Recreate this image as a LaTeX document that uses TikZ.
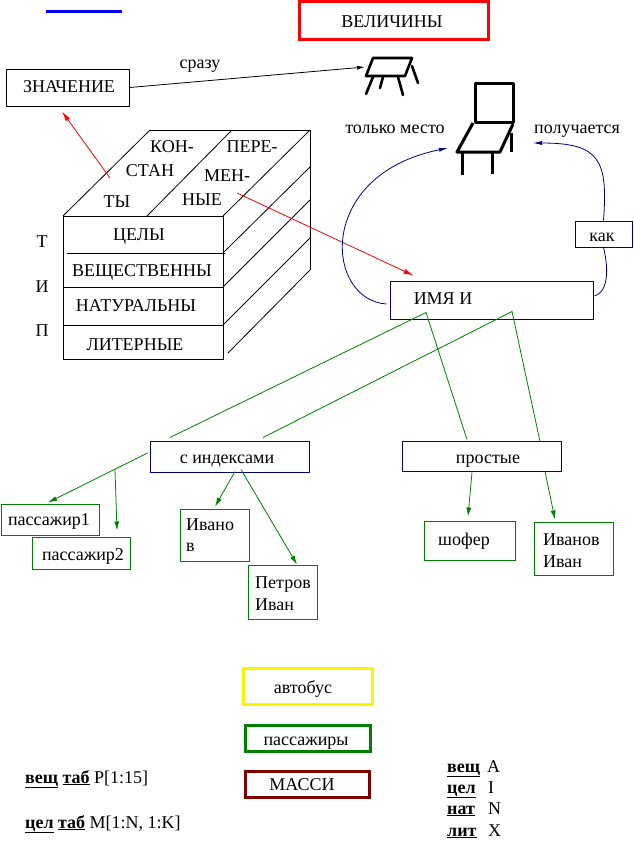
\documentclass[tikz,border=0pt]{standalone}
\usepackage{fontspec}
\setmainfont{Liberation Serif}
\usetikzlibrary{arrows.meta,calc}
\definecolor{grn}{RGB}{0,128,0}
\definecolor{nvy}{RGB}{0,0,128}
\definecolor{mrn}{RGB}{128,0,0}
\begin{document}
\begin{tikzpicture}[x=1pt,y=-1pt,
  every node/.style={font=\fontsize{18}{22}\selectfont, inner sep=0pt},
  t/.style={anchor=base},
  tl/.style={anchor=base west},
  box/.style={draw, line width=1pt, fill=white},
  nbox/.style={box, draw=nvy},
  gbox/.style={box, draw=grn},
  thin/.style={line width=0.8pt},
  gline/.style={draw=grn, line width=0.8pt},
  garr/.style={gline, -{Latex[length=9pt,width=5pt]}},
  rarr/.style={draw=red, line width=0.8pt, -{Latex[length=10pt,width=5pt]}},
  barr/.style={draw=nvy, line width=0.8pt, -{Latex[length=9pt,width=4pt]}},
  icon/.style={line width=2.6pt, line cap=round, line join=round},
  chr/.style={line width=3pt, line join=round}
]
\useasboundingbox (0,0) rectangle (633,854);

% blue line top left
\coordinate (bl1) at (46,11);
\coordinate (bl2) at (122,11);
\draw[blue, line width=3pt] (bl1) -- (bl2);

% title
\node[box, draw=red, line width=3pt, minimum width=189pt, minimum height=38pt] (vel) at (393.5,20) {};
\node[t] (velT) at (392,27) {ВЕЛИЧИНЫ};

% ЗНАЧЕНИЕ
\node[box, minimum width=123pt, minimum height=37pt] (znach) at (67.5,87.5) {};
\node[t] (znachT) at (69,92) {ЗНАЧЕНИЕ};
\node[t] (srazu) at (200,68) {сразу};

% table icon
\coordinate (table) at (365,67);
\draw[icon] (373,58) -- (412,58) -- (405,76) -- (366,76) -- cycle;
\draw[icon] (373,77) -- (366,94);
\draw[icon] (383,77) -- (380,88);
\draw[icon] (398,77) -- (403,95);
\draw[icon] (412,66) -- (418,83);
\draw[thin, -{Latex[length=8pt,width=4pt]}] (znach.east) -- (table);

% chair icon
\draw[chr] (475,83) rectangle (513,122);
\draw[chr] (473,123) -- (457,152) -- (500,152) -- (513,124);
\draw[chr] (511,133) -- (511,152);
\draw[chr] (462,152) -- (462,175);
\draw[chr] (492,152) -- (492,174);
\coordinate (chairL) at (448,148);
\coordinate (chairR) at (533,143);
\node[t] (tolko) at (395,133) {только место};
\node[t] (polu) at (577,133) {получается};

% cube
\draw[thin] (63,216) rectangle (223,359);
\draw[thin] (67,253) -- (225,253);
\draw[thin] (63,287) -- (223,287);
\draw[thin] (63,325) -- (223,325);
\draw[thin] (150,130) -- (310,130) -- (310,270);
\draw[thin] (63,216) -- (150,130);
\draw[thin] (147,216) -- (232,130);
\draw[thin] (223,216) -- (310,130);
\draw[thin] (223,253) -- (311,166);
\draw[thin] (223,287) -- (310,200);
\draw[thin] (223,325) -- (310,238);
\draw[thin] (228,353) -- (310,270);
\node[t] (kon) at (172,152) {КОН-};
\node[t] (stan) at (150,176) {СТАН};
\node[t] (ty) at (117,207) {ТЫ};
\node[t] (pere) at (252,152) {ПЕРЕ-};
\node[t] (men) at (227,181) {МЕН-};
\node[t] (nye) at (202,205) {НЫЕ};
\node[t] (cely) at (139,240) {ЦЕЛЫ};
\node[t] (vesh) at (142,276) {ВЕЩЕСТВЕННЫ};
\node[t] (nat) at (136,311) {НАТУРАЛЬНЫ};
\node[t] (lit) at (135,350) {ЛИТЕРНЫЕ};
\node[t] (tT) at (42,247) {Т};
\node[t] (tI) at (42,292) {И};
\node[t] (tP) at (42,336) {П};
\coordinate (cubeA) at (110,178);
\coordinate (cubeB) at (237,193);

% ИМЯ И and как
\node[nbox, minimum width=203pt, minimum height=38pt] (imya) at (491.5,300) {};
\node[t] (imyaT) at (443,304) {ИМЯ И};
\node[nbox, minimum width=57pt, minimum height=26pt] (kak) at (603.5,234) {};
\node[t] (kakT) at (602,241) {как};

% red arrows
\draw[rarr] (cubeA) -- ($(znach.south)+(-5.5,5)$);
\draw[rarr] (cubeB) -- ($(imya.north west)+(24,-5)$);

% blue curves
\draw[barr] ($(imya.west)+(-3,4)$) .. controls (325,300) and (315,175) .. (chairL);
\draw[draw=nvy, line width=0.8pt] ($(imya.east)+(1,-4)$) .. controls (608,292) and (609,270) .. (kak.south);
\draw[barr] (kak.north) .. controls (608,160) and (600,143) .. (chairR);

% index / simple
\node[nbox, minimum width=159pt, minimum height=31pt] (ci) at (229.5,456.5) {};
\node[t] (ciT) at (227,463) {с индексами};
\node[nbox, minimum width=159pt, minimum height=30pt] (pr) at (481.5,456) {};
\node[t] (prT) at (488,463) {простые};
\coordinate (ap1) at ($(imya.south)+(-65.5,-7)$);
\coordinate (ap2) at ($(imya.south)+(20.5,-8)$);
\draw[gline] ($(ci.north)+(-59.5,-3)$) -- (ap1) -- ($(pr.north)+(-14.5,-1)$);
\draw[gline] ($(ci.north)+(33.5,-3)$) -- (ap2) -- ($(pr.north)+(58.5,1)$);

% leaves
\node[gbox, minimum width=98pt, minimum height=31pt] (p1) at (50,519.5) {};
\node[t] (p1T) at (49,525) {пассажир1};
\node[gbox, minimum width=98pt, minimum height=32pt] (p2) at (81,553) {};
\node[t] (p2T) at (83,560) {пассажир2};
\node[gbox, minimum width=69pt, minimum height=52pt] (iv) at (214.5,535) {};
\node[tl] (ivT1) at (186,530) {Ивано};
\node[tl] (ivT2) at (186,551) {в};
\node[gbox, minimum width=69pt, minimum height=54pt] (pet) at (282.5,592) {};
\node[tl] (petT1) at (255,588) {Петров};
\node[tl] (petT2) at (255,610) {Иван};
\node[gbox, minimum width=91pt, minimum height=39pt] (sh) at (469.5,540.5) {};
\node[t] (shT) at (464,545) {шофер};
\node[gbox, minimum width=79pt, minimum height=53pt] (ii) at (573.5,548.5) {};
\node[tl] (iiT1) at (543,545) {Иванов};
\node[tl] (iiT2) at (543,567) {Иван};

\coordinate (br) at (115,469.5);
\draw[garr] ($(ci.west)+(-2,-3.5)$) -- ($(p1.north)+(-2,-1)$);
\draw[garr] (br) -- ($(p2.north)+(36,-6)$);
\draw[garr] ($(ci.south)+(5.5,-1)$) -- ($(iv.north)+(0.5,-2)$);
\draw[garr] ($(ci.south)+(11.5,-3)$) -- ($(pet.north)+(14.5,0)$);
\draw[garr] ($(pr.south)+(-9.5,1)$) -- ($(sh.north)+(-1.5,-4)$);
\draw[garr] ($(pr.south)+(63.5,0)$) -- ($(ii.north)+(-18.5,-2)$);

% legend boxes
\node[box, draw=yellow, line width=3pt, minimum width=129pt, minimum height=36pt] (avt) at (307.5,686) {};
\node[t] (avtT) at (303,693) {автобус};
\node[box, draw=grn, line width=3pt, minimum width=125pt, minimum height=26pt] (pass) at (307.5,738) {};
\node[t] (passT) at (306,745) {пассажиры};
\node[box, draw=mrn, line width=3pt, minimum width=124pt, minimum height=26pt] (mas) at (307,784) {};
\node[t] (masT) at (302,790) {МАССИ};

% declarations
\node[tl] (d1) at (25,783) {\underline{\textbf{вещ}} \underline{\textbf{таб}} P[1:15]};
\node[tl] (d2) at (25,828) {\underline{\textbf{цел}} \underline{\textbf{таб}} M[1:N, 1:K]};
\node[tl] (k1) at (447,772) {\underline{\textbf{вещ}}};
\node[tl] (k2) at (447,793) {\underline{\textbf{цел}}};
\node[tl] (k3) at (447,814) {\underline{\textbf{нат}}};
\node[tl] (k4) at (447,836) {\underline{\textbf{лит}}};
\node[tl] (v1) at (487,772) {A};
\node[tl] (v2) at (488,793) {I};
\node[tl] (v3) at (488,814) {N};
\node[tl] (v4) at (488,836) {X};
\end{tikzpicture}
\end{document}
